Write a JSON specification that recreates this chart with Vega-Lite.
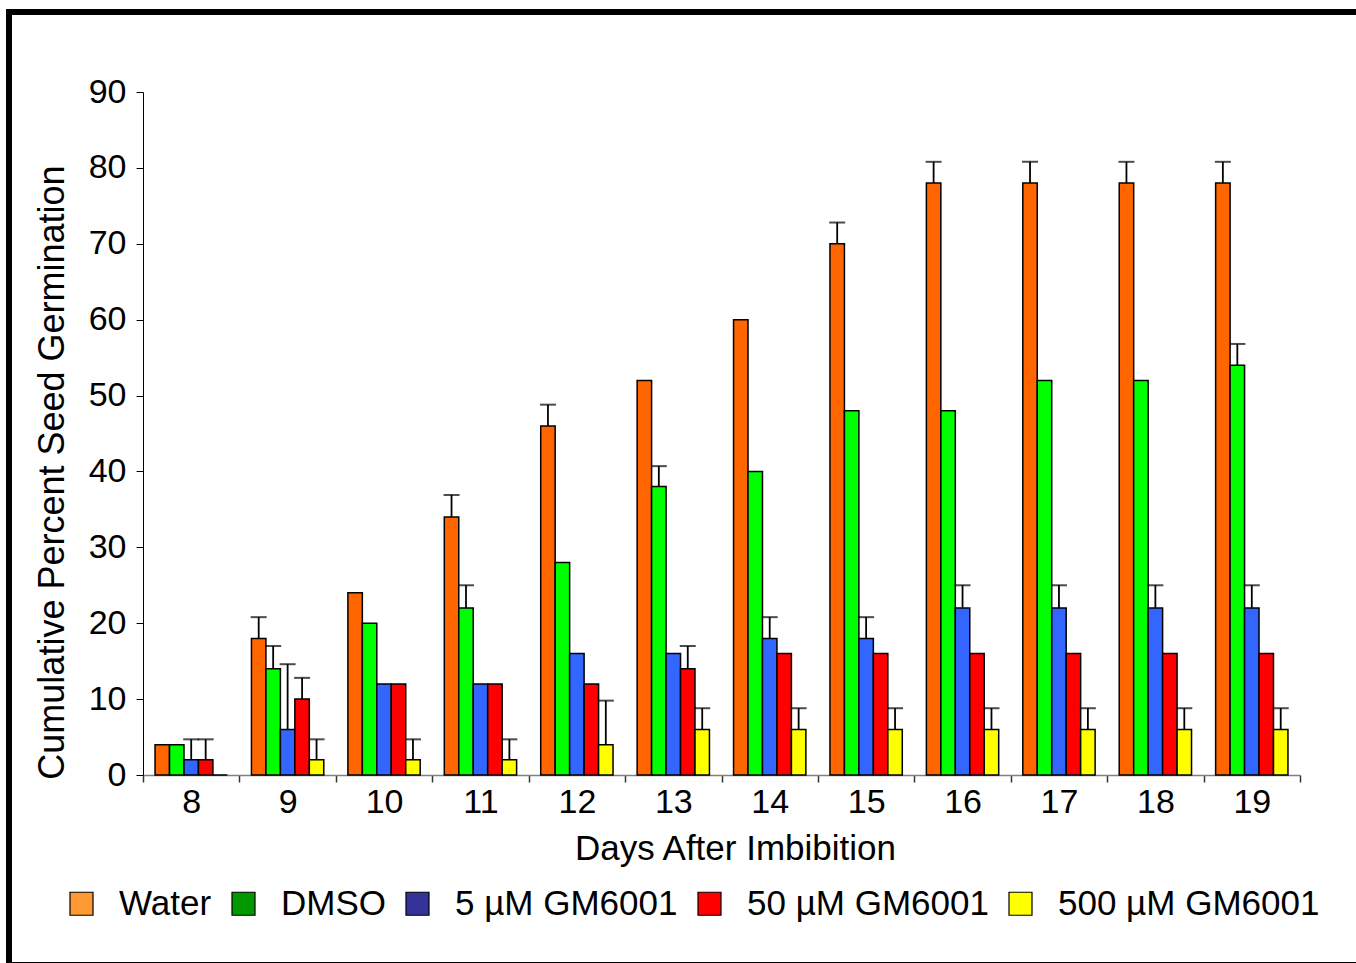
{
  "$schema": "https://vega.github.io/schema/vega-lite/v6.json",
  "width": 1350,
  "height": 953,
  "autosize": {"type": "none"},
  "padding": {"left": 9, "top": 12, "right": -3, "bottom": -2},
  "background": "white",
  "config": {
    "view": {"stroke": "black", "strokeWidth": 6},
    "font": "Liberation Sans",
    "axis": {"labelColor": "black", "titleColor": "black", "grid": false, "labelFont": "Liberation Sans", "titleFont": "Liberation Sans"},
    "legend": {"labelFont": "Liberation Sans"}
  },
  "data": {
    "values": [
      {"day": 8, "series": "Water", "value": 4, "hi": null},
      {"day": 8, "series": "DMSO", "value": 4, "hi": null},
      {"day": 8, "series": "5 µM GM6001", "value": 2, "hi": 4.7},
      {"day": 8, "series": "50 µM GM6001", "value": 2, "hi": 4.7},
      {"day": 8, "series": "500 µM GM6001", "value": 0, "hi": null},
      {"day": 9, "series": "Water", "value": 18, "hi": 20.8},
      {"day": 9, "series": "DMSO", "value": 14, "hi": 17},
      {"day": 9, "series": "5 µM GM6001", "value": 6, "hi": 14.6},
      {"day": 9, "series": "50 µM GM6001", "value": 10, "hi": 12.8},
      {"day": 9, "series": "500 µM GM6001", "value": 2, "hi": 4.7},
      {"day": 10, "series": "Water", "value": 24, "hi": null},
      {"day": 10, "series": "DMSO", "value": 20, "hi": null},
      {"day": 10, "series": "5 µM GM6001", "value": 12, "hi": null},
      {"day": 10, "series": "50 µM GM6001", "value": 12, "hi": null},
      {"day": 10, "series": "500 µM GM6001", "value": 2, "hi": 4.7},
      {"day": 11, "series": "Water", "value": 34, "hi": 36.9},
      {"day": 11, "series": "DMSO", "value": 22, "hi": 25},
      {"day": 11, "series": "5 µM GM6001", "value": 12, "hi": null},
      {"day": 11, "series": "50 µM GM6001", "value": 12, "hi": null},
      {"day": 11, "series": "500 µM GM6001", "value": 2, "hi": 4.7},
      {"day": 12, "series": "Water", "value": 46, "hi": 48.8},
      {"day": 12, "series": "DMSO", "value": 28, "hi": null},
      {"day": 12, "series": "5 µM GM6001", "value": 16, "hi": null},
      {"day": 12, "series": "50 µM GM6001", "value": 12, "hi": null},
      {"day": 12, "series": "500 µM GM6001", "value": 4, "hi": 9.8},
      {"day": 13, "series": "Water", "value": 52, "hi": null},
      {"day": 13, "series": "DMSO", "value": 38, "hi": 40.7},
      {"day": 13, "series": "5 µM GM6001", "value": 16, "hi": null},
      {"day": 13, "series": "50 µM GM6001", "value": 14, "hi": 17},
      {"day": 13, "series": "500 µM GM6001", "value": 6, "hi": 8.8},
      {"day": 14, "series": "Water", "value": 60, "hi": null},
      {"day": 14, "series": "DMSO", "value": 40, "hi": null},
      {"day": 14, "series": "5 µM GM6001", "value": 18, "hi": 20.8},
      {"day": 14, "series": "50 µM GM6001", "value": 16, "hi": null},
      {"day": 14, "series": "500 µM GM6001", "value": 6, "hi": 8.8},
      {"day": 15, "series": "Water", "value": 70, "hi": 72.8},
      {"day": 15, "series": "DMSO", "value": 48, "hi": null},
      {"day": 15, "series": "5 µM GM6001", "value": 18, "hi": 20.8},
      {"day": 15, "series": "50 µM GM6001", "value": 16, "hi": null},
      {"day": 15, "series": "500 µM GM6001", "value": 6, "hi": 8.8},
      {"day": 16, "series": "Water", "value": 78, "hi": 80.8},
      {"day": 16, "series": "DMSO", "value": 48, "hi": null},
      {"day": 16, "series": "5 µM GM6001", "value": 22, "hi": 25},
      {"day": 16, "series": "50 µM GM6001", "value": 16, "hi": null},
      {"day": 16, "series": "500 µM GM6001", "value": 6, "hi": 8.8},
      {"day": 17, "series": "Water", "value": 78, "hi": 80.8},
      {"day": 17, "series": "DMSO", "value": 52, "hi": null},
      {"day": 17, "series": "5 µM GM6001", "value": 22, "hi": 25},
      {"day": 17, "series": "50 µM GM6001", "value": 16, "hi": null},
      {"day": 17, "series": "500 µM GM6001", "value": 6, "hi": 8.8},
      {"day": 18, "series": "Water", "value": 78, "hi": 80.8},
      {"day": 18, "series": "DMSO", "value": 52, "hi": null},
      {"day": 18, "series": "5 µM GM6001", "value": 22, "hi": 25},
      {"day": 18, "series": "50 µM GM6001", "value": 16, "hi": null},
      {"day": 18, "series": "500 µM GM6001", "value": 6, "hi": 8.8},
      {"day": 19, "series": "Water", "value": 78, "hi": 80.8},
      {"day": 19, "series": "DMSO", "value": 54, "hi": 56.8},
      {"day": 19, "series": "5 µM GM6001", "value": 22, "hi": 25},
      {"day": 19, "series": "50 µM GM6001", "value": 16, "hi": null},
      {"day": 19, "series": "500 µM GM6001", "value": 6, "hi": 8.8}
    ]
  },
  "encoding": {
    "x": {
      "field": "day", "type": "ordinal",
      "scale": {"paddingInner": 0, "paddingOuter": 0, "range": [134, 1291]},
      "axis": {
        "title": "Days After Imbibition", "labelAngle": 0, "tickBand": "extent", "offset": -190,
        "domainColor": "#808080", "domainWidth": 1.5, "tickColor": "#333333", "tickWidth": 1.5, "tickSize": 7,
        "labelFontSize": 34, "labelPadding": 3,
        "titleFontSize": 35, "titleFontWeight": "normal",
        "titleX": 726, "titleY": 84, "titleBaseline": "alphabetic", "titleAlign": "center"
      }
    },
    "xOffset": {
      "field": "series", "type": "nominal",
      "sort": ["Water", "DMSO", "5 µM GM6001", "50 µM GM6001", "500 µM GM6001"],
      "scale": {"paddingInner": 0, "paddingOuter": 0.833}
    }
  },
  "layer": [
    {
      "mark": {"type": "bar", "stroke": "black", "strokeWidth": 1.5},
      "encoding": {
        "y": {
          "field": "value", "type": "quantitative",
          "scale": {"domain": [0, 90], "nice": false, "range": [763, 80]},
          "axis": {
            "title": "Cumulative Percent Seed  Germination", "offset": -134,
            "values": [0, 10, 20, 30, 40, 50, 60, 70, 80, 90],
            "tickSize": 7, "tickColor": "black", "domainColor": "black", "labelPadding": 10,
            "labelFontSize": 34, "titleFontSize": 36, "titleFontWeight": "normal",
            "titleX": -80, "titleY": 460, "titleBaseline": "alphabetic", "titleAlign": "center"
          }
        },
        "fill": {
          "field": "series", "type": "nominal",
          "sort": ["Water", "DMSO", "5 µM GM6001", "50 µM GM6001", "500 µM GM6001"],
          "scale": {
            "range": ["#FF6600", "#00FF00", "#3366FF", "#FF0000", "#FFFF00"]
          },
          "legend": null
        }
      }
    },
    {
      "transform": [{"filter": "datum.hi != null"}],
      "mark": {"type": "rule", "color": "black", "strokeWidth": 1.8},
      "encoding": {
        "y": {"field": "value", "type": "quantitative", "axis": {"title": "Cumulative Percent Seed  Germination", "offset": -134}},
        "y2": {"field": "hi"}
      }
    },
    {
      "transform": [{"filter": "datum.hi != null"}],
      "mark": {"type": "tick", "color": "black", "thickness": 2, "size": 16},
      "encoding": {
        "y": {"field": "hi", "type": "quantitative", "axis": {"title": "Cumulative Percent Seed  Germination", "offset": -134}}
      }
    },
    {
      "mark": {"type": "point", "filled": true, "opacity": 0, "shape": "square"},
      "encoding": {
        "y": {"field": "value", "type": "quantitative", "axis": {"title": "Cumulative Percent Seed  Germination", "offset": -134}},
        "color": {
          "field": "series", "type": "nominal",
          "scale": {
            "domain": ["Water", "DMSO", "5 µM GM6001", "50 µM GM6001", "500 µM GM6001"],
            "range": ["#FF9933", "#009900", "#333399", "#FF0000", "#FFFF00"]
          },
          "legend": {
            "title": null, "orient": "none", "legendX": 55, "legendY": 874, "direction": "horizontal",
            "symbolType": "square", "symbolSize": 529, "symbolStrokeColor": "black", "symbolStrokeWidth": 1.2,
            "symbolOpacity": 1, "labelFontSize": 35, "labelColor": "black", "labelOffset": 20,
            "columnPadding": 14, "labelLimit": 500
          }
        }
      }
    }
  ]
}
